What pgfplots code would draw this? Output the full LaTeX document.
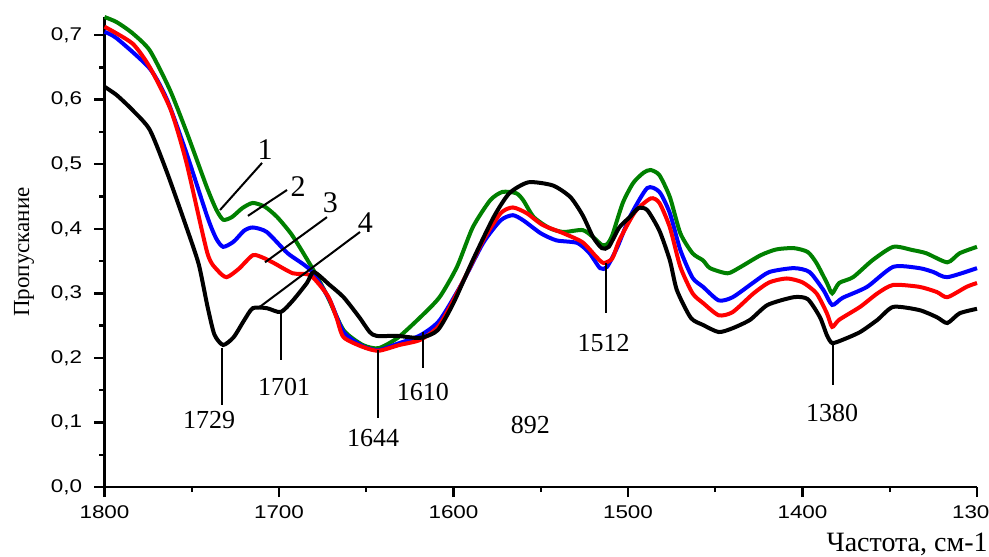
\documentclass[border=0pt]{standalone}
\usepackage{fontspec}
\setmainfont{Liberation Serif}
\newfontfamily\arialfont[FakeStretch=1.22]{Liberation Sans}
\usepackage{pgfplots}
\pgfplotsset{compat=1.18}
\definecolor{cgreen}{RGB}{0,128,0}
\definecolor{cblue}{RGB}{0,0,255}
\definecolor{cred}{RGB}{255,0,0}
\begin{document}
\begin{tikzpicture}
\begin{axis}[
  scale only axis, width=436.25pt, height=235pt,
  xmin=1300, xmax=1800, x dir=reverse, ymin=0, ymax=0.728,
  axis x line=bottom, axis y line=left,
  axis line style={-, line width=1.2pt},
  xtick={1300,1400,1500,1600,1700,1800},
  ytick={0,0.1,0.2,0.3,0.4,0.5,0.6,0.7},
  minor x tick num=1, minor y tick num=1,
  tick align=outside, major tick length=5pt, minor tick length=2.5pt,
  every tick/.style={line width=1.2pt, black},
  /pgf/number format/assume math mode=true,
  /pgf/number format/use comma,
  /pgf/number format/1000 sep={},
  tick label style={font=\arialfont\fontsize{9.2}{9.2}\selectfont, inner sep=0pt},
  y tick label style={/pgf/number format/.cd, fixed, fixed zerofill, precision=1, /tikz/.cd},
  xticklabel shift=4pt, yticklabel shift=6pt,
  xlabel={Частота, см-1},
  xlabel style={at={(axis description cs:1.0126,-0.1362)}, anchor=base east, inner sep=0pt, font=\fontsize{14}{14}\selectfont},
  ylabel={Пропускание},
  ylabel style={at={(axis description cs:-0.0923,0.5)}, anchor=center, inner sep=0pt, font=\fontsize{11.5}{11.5}\selectfont},
  clip=false,
]
% 1 - green
\addplot[cgreen, line width=2pt, smooth, tension=0.4] coordinates {
(1800,0.728) (1793,0.720) (1784,0.703) (1774,0.676) (1762.5,0.615) (1752.7,0.548)
(1741.3,0.464) (1736,0.430) (1732,0.414) (1727,0.418) (1721,0.432) (1715,0.440)
(1708,0.434) (1701,0.418) (1693,0.392) (1686,0.362) (1679,0.330) (1672,0.294)
(1663,0.243) (1652,0.220) (1643,0.215) (1632,0.231) (1619,0.263) (1608,0.294)
(1598,0.341) (1589,0.402) (1579,0.444) (1572,0.457) (1564,0.455) (1560,0.444)
(1554,0.418) (1545,0.401) (1537,0.395) (1526,0.398) (1520,0.387) (1515,0.375)
(1512,0.376) (1509,0.390) (1503,0.440) (1497,0.471) (1491,0.487) (1487,0.491)
(1482,0.483) (1476,0.449) (1470,0.393) (1463,0.362) (1457,0.351) (1453,0.339)
(1443,0.331) (1436,0.340) (1424,0.359) (1415,0.368) (1405,0.370) (1397,0.364)
(1392,0.347) (1386,0.316) (1383,0.300) (1379,0.316) (1371,0.325) (1360,0.351)
(1348,0.372) (1337,0.367) (1329,0.362) (1317,0.348) (1310,0.362) (1300,0.372)
};
% 2 - blue
\addplot[cblue, line width=2pt, smooth, tension=0.4] coordinates {
(1800,0.705) (1793,0.695) (1774,0.648) (1764,0.599) (1753,0.517) (1741,0.418)
(1736,0.385) (1732,0.372) (1726,0.380) (1720,0.397) (1715,0.402) (1707,0.395)
(1695,0.362) (1682,0.336) (1671,0.290) (1663,0.240) (1652,0.218) (1643,0.212)
(1632,0.222) (1619,0.235) (1608,0.258) (1595,0.316) (1583,0.378) (1573,0.413)
(1566,0.421) (1560,0.413) (1550,0.393) (1541,0.382) (1529,0.378) (1522,0.362)
(1516,0.339) (1512,0.341) (1506,0.372) (1499,0.418) (1489,0.463) (1482,0.457)
(1476,0.424) (1470,0.367) (1463,0.324) (1457,0.310) (1448,0.289) (1440,0.294)
(1428,0.317) (1419,0.333) (1405,0.339) (1396,0.333) (1388,0.305) (1383,0.282)
(1377,0.293) (1363,0.310) (1348,0.341) (1333,0.339) (1325,0.333) (1317,0.325)
(1300,0.339)
};
% 3 - red
\addplot[cred, line width=2pt, smooth, tension=0.4] coordinates {
(1800,0.713) (1784,0.687) (1774,0.650) (1762,0.584) (1753,0.502) (1741,0.362)
(1735,0.335) (1730,0.325) (1723,0.338) (1715,0.359) (1709,0.355) (1703,0.347)
(1692,0.331) (1682,0.328) (1672,0.296) (1667,0.262) (1663,0.232) (1652,0.217)
(1643,0.211) (1631,0.220) (1619,0.228) (1608,0.251) (1595,0.316) (1583,0.382)
(1573,0.424) (1566,0.433) (1558,0.424) (1549,0.406) (1537,0.393) (1526,0.379)
(1518,0.356) (1514,0.347) (1509,0.354) (1505,0.382) (1496,0.426) (1487,0.447)
(1482,0.440) (1476,0.402) (1470,0.341) (1463,0.300) (1457,0.285) (1448,0.266)
(1440,0.271) (1428,0.300) (1419,0.317) (1409,0.323) (1400,0.317) (1392,0.300)
(1386,0.269) (1383,0.248) (1379,0.259) (1367,0.279) (1357,0.300) (1348,0.313)
(1333,0.310) (1323,0.302) (1317,0.294) (1306,0.310) (1300,0.316)
};
% 4 - black
\addplot[black, line width=2pt, smooth, tension=0.4] coordinates {
(1800,0.620) (1793,0.607) (1784,0.584) (1774,0.553) (1764,0.486) (1753,0.402)
(1746,0.345) (1741,0.280) (1737,0.236) (1732,0.220) (1726,0.232) (1720,0.258)
(1715,0.277) (1707,0.277) (1699,0.271) (1692,0.289) (1684,0.316) (1680,0.333)
(1671,0.313) (1663,0.294) (1654,0.263) (1648,0.240) (1644,0.234) (1632,0.234)
(1619,0.231) (1609,0.243) (1600,0.285) (1589,0.351) (1577,0.418) (1568,0.455)
(1557,0.472) (1543,0.467) (1533,0.449) (1526,0.421) (1520,0.387) (1515,0.370)
(1511,0.372) (1505,0.402) (1499,0.418) (1494,0.432) (1489,0.429) (1482,0.397)
(1476,0.351) (1472,0.305) (1464,0.262) (1457,0.251) (1448,0.240) (1440,0.246)
(1430,0.259) (1420,0.282) (1405,0.294) (1397,0.291) (1390,0.263) (1386,0.235)
(1383,0.223) (1377,0.228) (1367,0.240) (1357,0.259) (1348,0.279) (1333,0.274)
(1323,0.263) (1317,0.254) (1310,0.269) (1300,0.276)
};
% curve number leaders
\draw[line width=1pt] (axis cs:1733.8,0.429) -- (axis cs:1709.7,0.502);
\draw[line width=1pt] (axis cs:1717.8,0.420) -- (axis cs:1695.4,0.460);
\draw[line width=1pt] (axis cs:1708,0.348) -- (axis cs:1672.5,0.418);
\draw[line width=1pt] (axis cs:1712,0.277) -- (axis cs:1653.6,0.395);
\node[font=\fontsize{15}{15}\selectfont, inner sep=0pt] at (axis cs:1708,0.522) {1};
\node[font=\fontsize{15}{15}\selectfont, inner sep=0pt] at (axis cs:1689,0.466) {2};
\node[font=\fontsize{15}{15}\selectfont, inner sep=0pt] at (axis cs:1670.5,0.440) {3};
\node[font=\fontsize{15}{15}\selectfont, inner sep=0pt] at (axis cs:1650.5,0.410) {4};
% band annotations
\draw[line width=1pt] (axis cs:1732.7,0.215) -- (axis cs:1732.7,0.127);
\draw[line width=1pt] (axis cs:1698.9,0.269) -- (axis cs:1698.9,0.197);
\draw[line width=1pt] (axis cs:1643.3,0.212) -- (axis cs:1643.3,0.107);
\draw[line width=1pt] (axis cs:1617.5,0.240) -- (axis cs:1617.5,0.184);
\draw[line width=1pt] (axis cs:1512.6,0.347) -- (axis cs:1512.6,0.269);
\draw[line width=1pt] (axis cs:1382.8,0.224) -- (axis cs:1382.8,0.158);
\node[font=\fontsize{13}{13}\selectfont, inner sep=0pt] at (axis cs:1740,0.104) {1729};
\node[font=\fontsize{13}{13}\selectfont, inner sep=0pt] at (axis cs:1697,0.155) {1701};
\node[font=\fontsize{13}{13}\selectfont, inner sep=0pt] at (axis cs:1646,0.076) {1644};
\node[font=\fontsize{13}{13}\selectfont, inner sep=0pt] at (axis cs:1617.5,0.147) {1610};
\node[font=\fontsize{13}{13}\selectfont, inner sep=0pt] at (axis cs:1556,0.096) {892};
\node[font=\fontsize{13}{13}\selectfont, inner sep=0pt] at (axis cs:1514,0.223) {1512};
\node[font=\fontsize{13}{13}\selectfont, inner sep=0pt] at (axis cs:1383,0.115) {1380};
\end{axis}
\pgfresetboundingbox
\path[use as bounding box] (-52.25pt,-34.5pt) rectangle (442.25pt,243.5pt);
\end{tikzpicture}
\end{document}
